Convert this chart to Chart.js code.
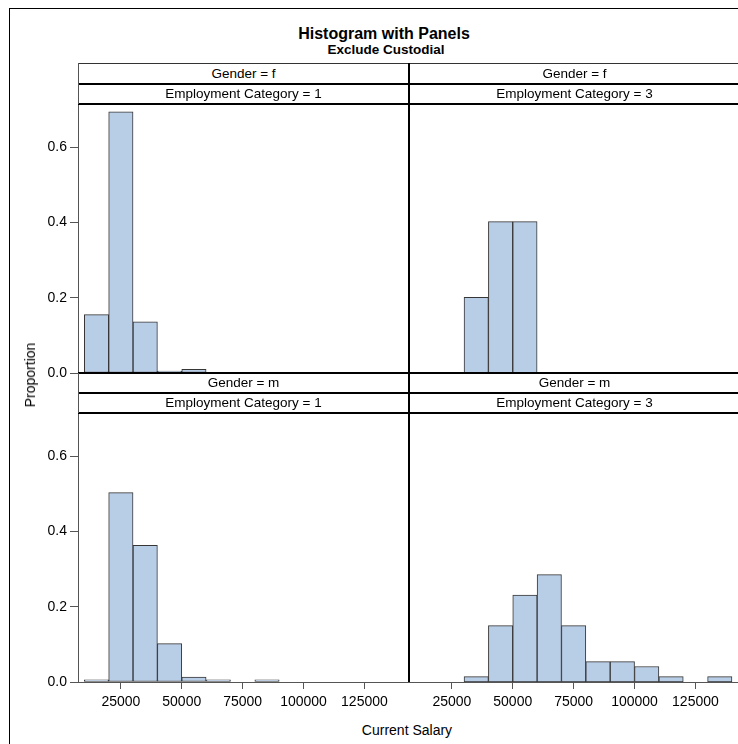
<!DOCTYPE html>
<html><head><meta charset="utf-8">
<script src="https://cdn.jsdelivr.net/npm/chart.js@4.4.1/dist/chart.umd.min.js"></script>
<style>
html,body{margin:0;padding:0;background:#fff;overflow:hidden;}
#wrap{position:relative;width:738px;height:744px;overflow:hidden;background:#fff;font-family:'Liberation Sans',Arial,sans-serif;color:#000;}
.ln{position:absolute;z-index:5;}
.txt{position:absolute;white-space:nowrap;line-height:1;z-index:6;}
canvas{position:absolute;z-index:1;}
</style></head><body><div id="wrap"></div>
<script>
// ---- data ----
const titleText = "Histogram with Panels";
const subtitleText = "Exclude Custodial";
const xTitle = "Current Salary";
const yTitle = "Proportion";
const rowLabels = ["Gender = f", "Gender = m"];
const colLabels = ["Employment Category = 1", "Employment Category = 3"];
const binCenters = [15000, 25000, 35000, 45000, 55000, 65000, 75000, 85000, 95000, 105000, 115000, 125000, 135000];
const femaleCat1 = [0.155, 0.694, 0.136, 0.005, 0.010, null, null, null, null, null, null, null, null];
const femaleCat3 = [null, null, 0.2, 0.4, 0.4, null, null, null, null, null, null, null, null];
const maleCat1   = [0.006, 0.503, 0.363, 0.102, 0.013, 0.006, null, 0.006, null, null, null, null, null];
const maleCat3   = [null, null, 0.014, 0.149, 0.230, 0.284, 0.149, 0.054, 0.054, 0.041, 0.014, null, 0.014];
const xTicks = [25000, 50000, 75000, 100000, 125000];
const yTicks = [0, 0.2, 0.4, 0.6];
const xMin = 7400, xMax = 143300;
const yMin = 0, yMax = 0.711;

// ---- style ----
const barFill = 'rgb(184,205,230)';
const barEdge = '#363636';
const axisColor = '#555555';
const FONT = "'Liberation Sans', Arial, sans-serif";

const wrap = document.getElementById('wrap');

function line(x, y, w, h, c) {
  const d = document.createElement('div');
  d.className = 'ln';
  d.style.left = x + 'px'; d.style.top = y + 'px';
  d.style.width = w + 'px'; d.style.height = h + 'px';
  d.style.background = c;
  wrap.appendChild(d);
}
function text(str, cx, top, size, bold, rotate) {
  const d = document.createElement('div');
  d.className = 'txt';
  d.textContent = str;
  d.style.fontSize = size + 'px';
  d.style.fontWeight = bold ? 'bold' : 'normal';
  d.style.left = cx + 'px';
  d.style.top = top + 'px';
  d.style.transform = rotate ? 'translate(-50%,-50%) rotate(-90deg)' : 'translateX(-50%)';
  wrap.appendChild(d);
}

function makeChart(rect, values, showY, showX) {
  const yw = 48, xh = 40;
  const padL = showY ? yw : 0, padT = 10, padR = 10, padB = showX ? xh : 12;
  const W = rect.r - rect.l + padL + padR, H = rect.b - rect.t + padT + padB;
  const cv = document.createElement('canvas');
  cv.width = W; cv.height = H;
  cv.style.left = (rect.l - padL) + 'px'; cv.style.top = (rect.t - padT) + 'px';
  cv.style.width = W + 'px'; cv.style.height = H + 'px';
  wrap.appendChild(cv);
  new Chart(cv, {
    type: 'bar',
    data: {
      labels: binCenters,
      datasets: [{
        data: values,
        backgroundColor: barFill,
        borderColor: barEdge,
        borderWidth: 1,
        borderSkipped: false,
        barPercentage: 1,
        categoryPercentage: 1
      }]
    },
    options: {
      responsive: false, animation: false, devicePixelRatio: 1,
      layout: { padding: { left: 0, top: padT, right: padR, bottom: showX ? 0 : padB } },
      plugins: { legend: { display: false }, tooltip: { enabled: false } },
      scales: {
        x: {
          type: 'linear', min: xMin, max: xMax, offset: false, display: showX,
          grid: { offset: false, drawOnChartArea: false, drawTicks: true, tickLength: 7, color: axisColor },
          border: { display: true, color: axisColor, width: 1 },
          ticks: { color: '#000', padding: 5, font: { family: FONT, size: 14 }, maxRotation: 0, autoSkip: false,
                   callback: v => String(v) },
          afterBuildTicks: s => { s.ticks = xTicks.map(v => ({ value: v })); },
          afterFit: s => { s.height = showX ? xh : 0; }
        },
        y: {
          type: 'linear', min: yMin, max: yMax, display: showY,
          grid: { drawOnChartArea: false, drawTicks: true, tickLength: 8, color: axisColor },
          border: { display: true, color: axisColor, width: 1 },
          ticks: { color: '#000', padding: 3, font: { family: FONT, size: 14 },
                   callback: v => Number(v).toFixed(1) },
          afterBuildTicks: s => { s.ticks = yTicks.map(v => ({ value: v })); },
          afterFit: s => { s.width = showY ? yw : 0; }
        }
      }
    }
  });
}

// panels
makeChart({ l: 78, r: 409, t: 104, b: 373 }, femaleCat1, true, false);
makeChart({ l: 409, r: 740, t: 104, b: 373 }, femaleCat3, false, false);
makeChart({ l: 78, r: 409, t: 413, b: 682 }, maleCat1, true, true);
makeChart({ l: 409, r: 740, t: 413, b: 682 }, maleCat3, false, true);

// outer frame
line(9, 8, 729, 1, '#000');
line(9, 8, 1, 736, '#000');

// header boxes
line(78, 63, 662, 1, '#333');
line(78, 83, 662, 2, '#000');
line(78, 103, 662, 2, '#000');
line(78, 372, 662, 2, '#000');
line(78, 392, 662, 2, '#000');
line(78, 412, 662, 2, '#000');
line(78, 63, 1, 41, axisColor);
line(78, 373, 1, 40, axisColor);
line(408, 63, 2, 619, '#000');

// titles
text(titleText, 384, 25.5, 16, true, false);
text(subtitleText, 386, 43, 13.5, true, false);

// header labels
const colCenters = [243.5, 574.5];
for (let r = 0; r < 2; r++) {
  const off = r === 0 ? 0 : 309.3;
  for (let c = 0; c < 2; c++) {
    text(rowLabels[r], colCenters[c], 66.6 + off, 13.5, false, false);
    text(colLabels[c], colCenters[c], 86.6 + off, 13.5, false, false);
  }
}

// axis titles
text(xTitle, 407, 723, 14, false, false);
text(yTitle, 30, 375, 14, false, true);
</script></body></html>
